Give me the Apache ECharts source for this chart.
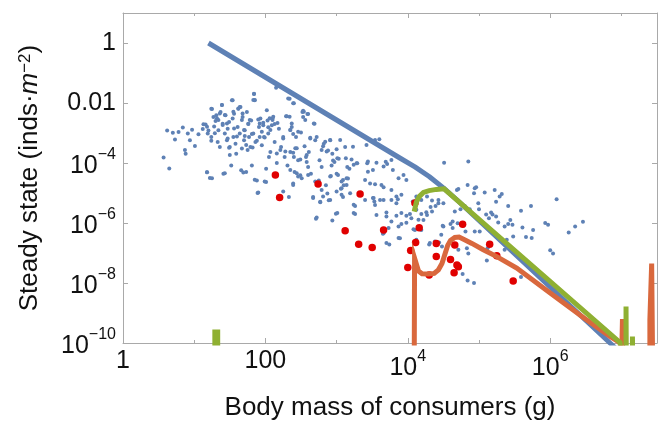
<!DOCTYPE html>
<html><head><meta charset="utf-8">
<script src="https://cdn.jsdelivr.net/npm/echarts@6/dist/echarts.min.js"></script>
<style>html,body{margin:0;padding:0;background:#fff}#c{width:668px;height:421px}</style>
</head><body><div id="c"></div>
<script>
// Values, stored as [log10(body mass g), log10(density inds/m^2)]
const xLabelExponents = [0, 2, 4, 6];
const yLabelExponents = [-10, -8, -6, -4, -2, 0];
const xTitle = 'Body mass of consumers (g)';

const observedLog10 = [
[0.57,-3.82],[0.65,-4.18],[0.62,-2.92],[0.70,-2.99],[0.73,-3.22],[0.78,-2.97],[0.84,-2.82],[0.87,-3.57],[0.88,-3.69],[0.91,-3.02],[0.94,-3.24],[0.97,-2.89],[1.01,-3.43],[1.06,-3.04],[1.12,-2.87],[1.16,-2.72],[1.18,-4.31],[1.19,-3.02],[1.22,-4.50],[1.24,-3.13],[1.24,-2.19],[1.27,-2.47],[1.28,-2.78],[1.30,-2.60],[1.31,-2.41],[1.33,-3.30],[1.34,-2.91],[1.36,-3.47],[1.37,-2.30],[1.39,-2.07],[1.40,-2.69],[1.41,-4.36],[1.43,-3.02],[1.44,-2.41],[1.46,-3.24],[1.47,-2.86],[1.49,-2.63],[1.50,-3.47],[1.52,-4.08],[1.53,-1.91],[1.54,-2.52],[1.55,-3.13],[1.56,-2.36],[1.58,-3.36],[1.59,-3.69],[1.61,-2.80],[1.62,-2.19],[1.64,-3.02],[1.65,-2.13],[1.66,-4.24],[1.67,-3.52],[1.68,-2.47],[1.70,-3.24],[1.71,-2.91],[1.73,-4.30],[1.74,-2.30],[1.76,-2.69],[1.77,-3.13],[1.79,-3.47],[1.80,-2.58],[1.81,-4.08],[1.83,-3.02],[1.84,-1.69],[1.85,-1.91],[1.86,-3.30],[1.88,-4.58],[1.89,-5.00],[1.91,-2.80],[1.92,-3.13],[1.93,-2.52],[1.95,-3.41],[1.97,-2.74],[1.98,-3.13],[2.01,-4.63],[2.01,-4.19],[2.03,-2.58],[2.04,-3.02],[2.05,-3.80],[2.07,-3.63],[2.09,-2.74],[2.10,-2.52],[2.13,-3.30],[2.15,-1.49],[2.16,-4.00],[2.17,-2.67],[2.19,-2.86],[2.22,-3.47],[2.25,-3.13],[2.27,-3.80],[2.29,-2.44],[2.31,-4.08],[2.33,-5.13],[2.34,-1.86],[2.35,-3.63],[2.37,-2.80],[2.40,-3.80],[2.41,-4.30],[2.43,-3.13],[2.46,-3.91],[2.49,-4.41],[2.52,-2.30],[2.53,-2.47],[2.55,-3.44],[2.57,-3.80],[2.58,-3.97],[2.60,-4.13],[2.61,-3.63],[2.64,-4.36],[2.67,-5.13],[2.69,-2.69],[2.70,-3.24],[2.71,-5.86],[2.75,-4.58],[2.76,-3.91],[2.79,-4.13],[2.81,-3.44],[2.82,-3.36],[2.85,-4.74],[2.87,-5.02],[2.88,-3.58],[2.89,-5.24],[2.91,-3.24],[2.93,-4.08],[2.94,-3.69],[2.97,-3.97],[2.99,-5.69],[3.00,-4.36],[3.03,-3.86],[3.06,-4.86],[3.09,-5.13],[3.10,-4.74],[3.12,-3.47],[3.15,-4.13],[3.16,-4.52],[3.18,-4.19],
[1.13,-2.71],[1.20,-2.92],[1.25,-2.20],[1.32,-2.51],[1.34,-2.57],[1.36,-2.35],[1.40,-2.73],[1.43,-2.40],[1.47,-3.18],[1.49,-3.49],[1.50,-3.73],[1.55,-2.29],[1.60,-3.12],[1.62,-2.18],[1.67,-2.57],[1.68,-2.35],[1.70,-2.90],[1.71,-3.10],[1.73,-3.40],[1.75,-3.57],[1.76,-2.70],[1.81,-3.03],[1.82,-3.48],[1.85,-1.90],[1.88,-3.26],[1.92,-2.68],[1.95,-2.96],[1.97,-2.66],[1.99,-3.15],[2.04,-2.81],[2.06,-2.51],[2.10,-2.57],[2.13,-2.70],[2.16,-3.68],[2.21,-3.57],[2.25,-3.18],[2.34,-2.46],[2.37,-2.68],[2.40,-2.01],[2.42,-3.51],[2.46,-2.96],[2.49,-3.88],[2.53,-2.26],[2.59,-2.37],[2.63,-3.16],[1.18,-2.79],[1.24,-3.26],[1.29,-3.01],[1.39,-2.07],[1.46,-2.68],[1.54,-1.91],[1.56,-2.85],[1.64,-2.13],[1.78,-2.57],[1.84,-1.70],[1.90,-2.55],[2.02,-2.24],[2.07,-2.90],[2.11,-2.46],[2.35,-2.90],[2.56,-2.57],[2.32,-1.85],[1.18,-4.31],[1.25,-4.51],[1.43,-4.34],[1.69,-4.32],[1.85,-4.56],[1.90,-4.98],[1.99,-4.62],[2.25,-4.95],[2.39,-4.73],[2.46,-4.45],[2.60,-4.40],[2.70,-4.62],[2.79,-4.90],[2.81,-5.12],[2.77,-5.31],[2.91,-4.45],[3.00,-4.95],[3.07,-4.62],[3.14,-4.51],
[1.83,-1.90],[2.39,-2.01],[2.54,-2.29],[2.60,-2.37],[2.30,-2.44],[2.68,-2.68],[2.35,-2.90],[2.39,-3.03],[2.50,-2.98],[2.63,-3.18],[2.72,-3.13],[2.84,-3.29],[2.91,-3.23],[3.05,-3.23],[2.79,-3.57],[2.86,-3.62],[3.00,-3.54],[3.23,-3.46],[3.42,-3.40],[3.54,-3.23],[3.60,-3.21],[2.28,-3.62],[2.39,-3.66],[2.44,-3.51],[2.58,-3.73],[2.95,-3.92],[3.01,-3.84],[3.13,-3.84],[3.21,-3.88],[3.29,-4.01],[3.43,-4.01],[3.44,-4.29],[3.56,-3.99],[3.69,-3.96],[3.71,-4.03],[2.35,-4.23],[2.44,-4.34],[2.51,-4.51],[2.39,-4.68],[2.92,-4.43],[3.02,-4.40],[3.09,-4.57],[3.14,-4.73],[3.07,-4.84],[3.40,-4.57],[3.47,-4.68],[3.54,-4.71],[3.63,-4.73],[3.66,-4.81],[3.79,-4.23],[3.87,-4.51],[3.94,-4.40],[3.98,-4.57],[3.77,-4.90],[3.84,-5.12],[3.91,-5.06],[2.67,-5.17],[2.77,-5.29],[2.91,-5.23],[3.07,-5.06],[3.19,-5.01],[3.26,-5.43],[3.26,-5.70],[3.40,-5.23],[3.51,-5.17],[3.54,-5.40],[3.61,-5.23],[3.70,-5.65],[3.70,-5.78],[3.77,-5.95],[3.84,-5.76],[3.91,-5.67],[3.98,-5.76],[4.03,-5.70],[4.05,-5.84],[2.72,-5.82],[2.94,-5.92],[3.01,-5.67],[3.56,-5.73],[3.65,-6.36],[3.70,-6.67],[3.87,-6.12],[3.91,-6.03],[3.98,-5.99],[4.08,-6.21],[3.87,-6.50],[4.22,-5.90],[4.27,-5.73],[4.34,-5.62],[4.10,-5.40],[4.12,-5.23],[4.27,-5.12],[4.34,-5.25],[4.43,-5.23],[4.50,-5.34],[4.31,-6.67],[4.38,-6.62],[4.48,-6.78],[4.50,-6.12],[4.51,-3.99],
[4.85,-3.95],[4.69,-4.90],[4.71,-4.87],[4.84,-4.73],[4.94,-4.84],[4.93,-5.01],[4.96,-4.81],[5.08,-4.98],[5.22,-4.90],[5.32,-5.03],[5.29,-5.12],[5.24,-5.29],[5.41,-5.43],[5.59,-5.59],[5.73,-5.43],[6.09,-5.21],[4.66,-5.62],[4.74,-5.54],[4.80,-5.43],[4.87,-5.54],[4.99,-5.34],[5.00,-5.54],[5.10,-5.72],[5.14,-5.84],[5.17,-5.65],[5.19,-5.72],[5.24,-5.78],[5.27,-5.98],[5.36,-6.12],[5.41,-6.03],[5.44,-5.90],[5.47,-6.06],[5.61,-6.15],[5.76,-6.23],[5.93,-6.00],[5.97,-6.06],[6.26,-6.32],[6.35,-6.12],[6.46,-5.96],[5.01,-6.28],[4.94,-6.28],[4.83,-6.84],[4.81,-6.28],[5.12,-6.84],[5.15,-7.00],[5.36,-6.89],[5.39,-6.56],[5.48,-6.45],[5.66,-6.47],[5.74,-6.50],[6.00,-6.91],[6.04,-7.02],[5.11,-7.25],[4.77,-7.70],[4.84,-7.92],[4.93,-8.00],[5.59,-7.80],[4.19,-5.70],[4.26,-5.64],[4.32,-5.47],[4.39,-5.43],[4.43,-5.34],[4.12,-5.12],[4.19,-5.23],[4.07,-5.28],[4.15,-5.89],[4.19,-6.23],[4.10,-6.23],[4.12,-6.56],[4.30,-6.72],[4.44,-6.65],[4.47,-6.39],[4.49,-6.09],[4.60,-6.03],[4.63,-5.95],[4.70,-6.01],[4.63,-6.17],[4.78,-6.09],[4.71,-6.89],[4.85,-7.02],[3.24,-5.39],[3.24,-5.67],[3.24,-4.06],[3.52,-5.17],[3.53,-5.28],[3.66,-5.23],[3.77,-5.23],[3.84,-5.34],[3.86,-5.21],[3.73,-6.17],[3.74,-6.72],[3.66,-6.34],[3.89,-6.51],[4.12,-5.56],[3.28,-4.01],[3.44,-3.95],[3.51,-4.23],[3.66,-4.12],[3.77,-3.90]
];

const highlightedLog10 = [
[2.14,-4.40],[2.20,-5.15],[2.74,-4.70],[3.12,-6.26],[3.33,-5.03],[3.31,-6.71],[3.50,-6.82],[3.66,-6.23],[4.10,-5.33],[4.16,-6.16],[4.11,-6.65],[4.04,-6.92],[4.00,-7.48],[4.40,-6.68],[4.40,-7.12],[4.30,-7.73],[4.77,-6.04],[4.66,-6.73],[4.60,-7.22],[4.69,-7.40],[4.71,-7.46],[4.65,-7.66],[5.15,-6.71],[5.25,-7.09],[5.48,-7.93]
];

const blueModelLog10 = [[1.2,0],[3.9,-3.85],[4.1,-4.13],[4.3,-4.45],[4.5,-4.83],[4.7,-5.25],[6.84,-10.0],[6.93,-10.2]];

const orangeModelLog10 = [
[4.09,-11],[4.095,-7.17],[4.12,-7.17],[4.15,-7.6],[4.2,-7.69],[4.29,-7.70],[4.37,-7.68],[4.43,-7.56],[4.48,-7.35],[4.52,-7.05],[4.56,-6.75],[4.6,-6.58],[4.66,-6.48],[4.72,-6.47],[4.79,-6.55],[4.9,-6.68],[5.06,-6.89],[5.25,-7.12],[5.53,-7.5],[6.0,-8.33],[6.47,-9.16],[6.84,-9.78],[6.99,-10.0],[7.005,-10.3],
[7.015,-10.3],[7.015,-9.2],[7.02,-9.2],[7.02,-11],
[7.40,-11],[7.40,-9.22],[7.425,-9.22],[7.425,-7.35],[7.44,-7.35],[7.44,-11]
];

const greenModelLog10 = [
[1.29,-11],[1.29,-9.63],[1.33,-9.63],[1.33,-11],
null,
[4.09,-5.62],[4.12,-5.3],[4.16,-5.12],[4.22,-4.98],[4.3,-4.92],[4.4,-4.88],[4.51,-4.86],[6.98,-9.98],[7.01,-10.6],
[7.065,-11],[7.065,-8.78],[7.07,-8.78],[7.07,-11],
[7.155,-11],[7.155,-9.78],[7.16,-9.78],[7.16,-11]
];

const toValues = arr => arr.map(p => p ? [Math.pow(10, p[0]), Math.pow(10, p[1])] : ['-', '-']);

const FONT = 'Liberation Sans';
const GRAY = '#a9a9a9';
const BLUE = '#5e81b5', ORANGE = '#d9683d', GREEN = '#8fb032', RED = '#e00000';

const supRich = {
  p: {fontSize: 25, fontFamily: FONT, color: '#111'},
  b: {fontSize: 25, fontFamily: FONT, color: '#111', padding: [7, 0, 0, 0]},
  s: {fontSize: 16, fontFamily: FONT, color: '#111', verticalAlign: 'top'}
};

function xLabel(v) {
  const e = Math.round(v);
  if (Math.abs(v - e) > 1e-6 || xLabelExponents.indexOf(e) < 0) return '';
  if (e === 0) return '{p|1}';
  if (e === 2) return '{p|100}';
  return '{b|10}{s|' + e + '}';
}
function yLabel(v) {
  const e = Math.round(v);
  if (Math.abs(v - e) > 1e-6 || yLabelExponents.indexOf(e) < 0) return '';
  if (e === 0) return '{p|1}';
  if (e === -2) return '{p|0.01}';
  return '{b|10}{s|\u2212' + (-e) + '}';
}

const logX = (pos) => ({
  type: 'log', logBase: 10, min: 1, max: Math.pow(10, 7.5), splitNumber: 8, position: pos,
  axisLine: {show: true, onZero: false, lineStyle: {color: GRAY, width: 1}},
  axisTick: {show: true, inside: true, length: 3, lineStyle: {color: GRAY}},
  axisLabel: {show: false}, splitLine: {show: false}, minorTick: {show: false}
});
const linX = (pos, labels) => ({
  type: 'value', min: 0, max: 7.5, interval: 2, position: pos,
  axisLine: {show: false, onZero: false},
  axisTick: {show: true, inside: true, length: 5, lineStyle: {color: GRAY}},
  axisLabel: labels ? {show: true, margin: 6, formatter: xLabel, rich: supRich, showMaxLabel: false} : {show: false},
  splitLine: {show: false}
});
const logY = (pos) => ({
  type: 'log', logBase: 10, min: 1e-10, max: 10, splitNumber: 11, position: pos,
  axisLine: {show: true, onZero: false, lineStyle: {color: GRAY, width: 1}},
  axisTick: {show: true, inside: true, length: 3, lineStyle: {color: GRAY}},
  axisLabel: {show: false}, splitLine: {show: false}, minorTick: {show: false}
});
const linY = (pos, labels) => ({
  type: 'value', min: -10, max: 1, interval: 2, position: pos,
  axisLine: {show: false, onZero: false},
  axisTick: {show: true, inside: true, length: 5, lineStyle: {color: GRAY}},
  axisLabel: labels ? {show: true, margin: 7, formatter: yLabel, rich: supRich, showMaxLabel: false} : {show: false},
  splitLine: {show: false}
});

const xMain = linX('bottom', true);
Object.assign(xMain, {
  name: xTitle, nameLocation: 'middle', nameGap: 52, nameMoveOverlap: false,
  nameTextStyle: {fontSize: 26, fontFamily: FONT, color: '#111'}
});
const yMain = linY('left', true);
Object.assign(yMain, {
  name: '{t|Steady state (inds\u00b7}{i|m}{u|\u22122}{t|)}', nameLocation: 'middle', nameGap: 80, nameRotate: 90, nameMoveOverlap: false,
  nameTextStyle: {
    fontSize: 26, fontFamily: FONT, color: '#111',
    rich: {
      t: {fontSize: 26, fontFamily: FONT, color: '#111'},
      i: {fontSize: 26, fontFamily: FONT, color: '#111', fontStyle: 'italic'},
      u: {fontSize: 17, fontFamily: FONT, color: '#111', verticalAlign: 'top'}
    }
  }
});

const chart = echarts.init(document.getElementById('c'), null, {renderer: 'canvas'});
chart.setOption({
  animation: false,
  backgroundColor: '#fff',
  grid: {left: 123, right: 11, top: 13, bottom: 78, containLabel: false, outerBoundsMode: 'none'},
  xAxis: [logX('bottom'), xMain, logX('top'), linX('top', false)],
  yAxis: [logY('left'), yMain, logY('right'), linY('right', false)],
  series: [
    {type: 'scatter', xAxisIndex: 0, yAxisIndex: 0, data: toValues(observedLog10), symbolSize: 4,
     itemStyle: {color: BLUE, opacity: 1}, silent: true, z: 2},
    {type: 'scatter', xAxisIndex: 0, yAxisIndex: 0, data: toValues(highlightedLog10), symbolSize: 7.5,
     itemStyle: {color: RED, opacity: 1}, silent: true, z: 2},
    {type: 'line', xAxisIndex: 0, yAxisIndex: 0, data: toValues(blueModelLog10), showSymbol: false, symbol: 'none',
     clip: true, lineStyle: {color: BLUE, width: 5, join: 'round'}, silent: true, z: 3},
    {type: 'line', xAxisIndex: 0, yAxisIndex: 0, data: toValues(orangeModelLog10), showSymbol: false, symbol: 'none',
     clip: true, lineStyle: {color: ORANGE, width: 5, join: 'miter', cap: 'butt'}, silent: true, z: 3},
    {type: 'line', xAxisIndex: 0, yAxisIndex: 0, data: toValues(greenModelLog10), showSymbol: false, symbol: 'none',
     clip: true, connectNulls: false, lineStyle: {color: GREEN, width: 5, join: 'miter', cap: 'butt'}, silent: true, z: 3}
  ]
});
</script>
</body></html>
